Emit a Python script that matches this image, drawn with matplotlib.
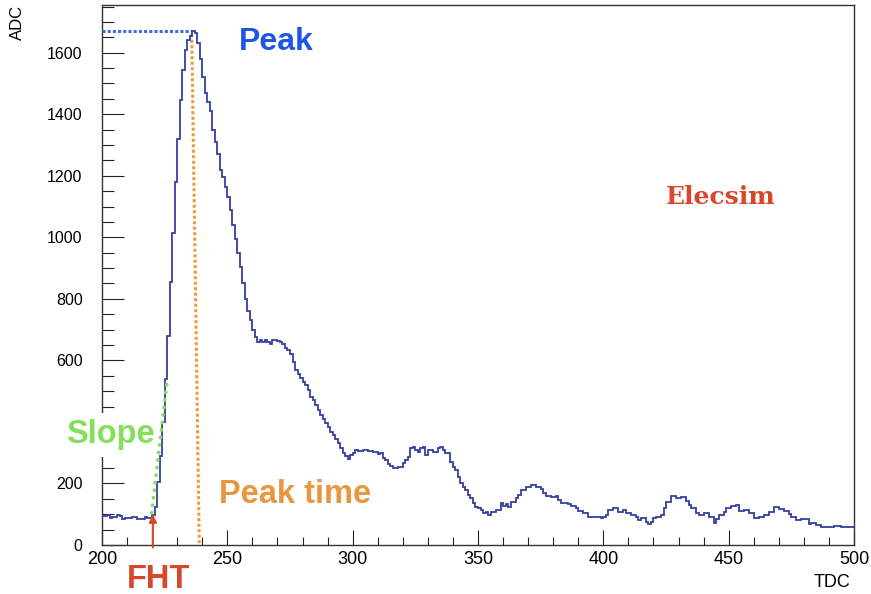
import matplotlib
matplotlib.use("Agg")
import matplotlib.pyplot as plt
import numpy as np
from matplotlib.ticker import MultipleLocator, FuncFormatter

# ---------------- data ----------------
TDC_MIN = 200
TDC_MAX = 500
# ADC content of each 1-TDC bin, bins 200..499
adc_200 = [93, 95, 99, 88, 90, 90, 97, 93, 86, 88]
adc_210 = [88, 88, 90, 90, 86, 86, 86, 90, 88, 88]
adc_220 = [99, 125, 205, 290, 400, 540, 680, 855, 1015, 1180]
adc_230 = [1320, 1445, 1545, 1610, 1640, 1655, 1670, 1665, 1630, 1580]
adc_240 = [1520, 1470, 1440, 1410, 1350, 1310, 1270, 1220, 1195, 1165]
adc_250 = [1130, 1090, 1040, 995, 950, 905, 850, 800, 760, 730]
adc_260 = [700, 676, 660, 667, 660, 667, 660, 654, 667, 667]
adc_270 = [663, 660, 654, 640, 635, 622, 595, 568, 557, 544]
adc_280 = [530, 519, 503, 481, 470, 454, 440, 422, 408, 397]
adc_290 = [384, 368, 357, 343, 330, 314, 300, 290, 281, 292]
adc_300 = [300, 308, 306, 306, 308, 308, 306, 306, 303, 303]
adc_310 = [295, 300, 284, 276, 263, 256, 249, 249, 252, 254]
adc_320 = [265, 276, 287, 314, 319, 308, 303, 314, 319, 292]
adc_330 = [310, 308, 303, 303, 314, 319, 308, 300, 300, 270]
adc_340 = [254, 243, 222, 200, 189, 179, 162, 152, 135, 124]
adc_350 = [119, 114, 103, 108, 97, 108, 108, 114, 114, 135]
adc_360 = [127, 133, 124, 141, 141, 152, 162, 179, 179, 189]
adc_370 = [189, 195, 195, 189, 189, 181, 170, 159, 159, 155]
adc_380 = [155, 159, 146, 135, 135, 135, 133, 127, 127, 119]
adc_390 = [112, 112, 103, 103, 90, 90, 90, 92, 92, 87]
adc_400 = [92, 97, 114, 114, 119, 119, 108, 108, 114, 103]
adc_410 = [103, 97, 97, 90, 81, 87, 87, 76, 68, 76]
adc_420 = [87, 92, 92, 97, 119, 141, 141, 159, 159, 152]
adc_430 = [152, 157, 157, 144, 130, 119, 119, 103, 97, 97]
adc_440 = [105, 105, 92, 92, 70, 83, 97, 97, 108, 119]
adc_450 = [119, 127, 127, 130, 112, 112, 114, 114, 105, 105]
adc_460 = [87, 87, 92, 92, 97, 97, 108, 108, 122, 122]
adc_470 = [116, 116, 112, 112, 101, 92, 92, 81, 81, 83]
adc_480 = [83, 83, 68, 73, 73, 65, 65, 60, 60, 60]
adc_490 = [60, 60, 62, 62, 62, 57, 57, 57, 57, 57]

adc = (adc_200 + adc_210 + adc_220 + adc_230 + adc_240 + adc_250 + adc_260
       + adc_270 + adc_280 + adc_290 + adc_300 + adc_310 + adc_320 + adc_330
       + adc_340 + adc_350 + adc_360 + adc_370 + adc_380 + adc_390 + adc_400
       + adc_410 + adc_420 + adc_430 + adc_440 + adc_450 + adc_460 + adc_470
       + adc_480 + adc_490)

# y tick label hidden under the "Slope" label in the original
hidden_ytick = 400

# annotation lines (hand drawn in the original)
fht_tdc = 220.3
fht_adc = 100
slope_tdc = [219.8, 226.0]
slope_adc = [104, 535]
peaktime_tdc = [235.8, 238.8]
peaktime_adc = [1660, 0]

# ---------------- style ----------------
HIST_C = "#35409f"
BLUE = "#1f55e4"
BLUE_DOT = "#3b6fe0"
ORANGE = "#ee9a3e"
ORANGE_T = "#e8963f"
GREEN = "#84e05c"
RED = "#d9472b"
FONT = "Liberation Sans"

fig = plt.figure(figsize=(8.71, 5.94), dpi=100)
ax = fig.add_axes([0.1171, 0.0825, 0.8634, 0.9091])

edges = np.arange(TDC_MIN, TDC_MAX + 1)
values = np.array(adc, dtype=float)
ax.stairs(values, edges, color=HIST_C, lw=1.3, baseline=None, zorder=6)

ax.set_xlim(TDC_MIN, TDC_MAX)
ax.set_ylim(0, 1755)

ax.xaxis.set_major_locator(MultipleLocator(50))
ax.xaxis.set_minor_locator(MultipleLocator(10))
ax.yaxis.set_major_locator(MultipleLocator(200))
ax.yaxis.set_minor_locator(MultipleLocator(50))
ax.yaxis.set_major_formatter(
    FuncFormatter(lambda v, p: "" if abs(v - hidden_ytick) < 1e-6 else f"{v:.0f}"))

ax.tick_params(which="both", direction="in", top=False, right=False, color="#222222")
ax.tick_params(axis="y", which="major", length=15.8, width=0.8, pad=14, labelsize=11.5)
ax.tick_params(axis="y", which="minor", length=8.6, width=0.8)
ax.tick_params(axis="x", which="major", length=10.8, width=0.8, pad=4, labelsize=13)
ax.tick_params(axis="x", which="minor", length=5.8, width=0.8)
for lab in ax.get_xticklabels() + ax.get_yticklabels():
    lab.set_fontfamily(FONT)
for sp in ax.spines.values():
    sp.set_color("#333333")
    sp.set_linewidth(1.0)

ax.set_ylabel("ADC", loc="top", fontsize=12, family=FONT)
ax.yaxis.set_label_coords(-0.1024, 1.0)
ax.set_xlabel("TDC", loc="right", fontsize=13, family=FONT)
ax.xaxis.set_label_coords(0.9947, -0.053)

# peak annotations derived from the histogram
pk = int(np.argmax(values))
peak_val = values[pk]
ax.plot([TDC_MIN, edges[pk]], [peak_val, peak_val], color=BLUE_DOT, lw=2.2,
        ls=(0, (1, 0.7)), zorder=5, clip_on=False)
ax.plot(peaktime_tdc, peaktime_adc, color=ORANGE, lw=2.2, ls=(0, (1, 0.8)), zorder=5)
ax.plot(slope_tdc, slope_adc, color=GREEN, lw=2.6, ls=(0, (0.1, 2.0)),
        dash_capstyle="round", zorder=7)
ax.annotate("", xy=(fht_tdc, fht_adc), xytext=(fht_tdc, -8),
            arrowprops=dict(arrowstyle="-|>,head_length=0.45,head_width=0.22",
                            color=RED, lw=1.5, shrinkA=0, shrinkB=0),
            annotation_clip=False, zorder=8)

ax.text(0.2314, 0.9315, "Peak", transform=ax.transAxes, ha="center", va="center",
        color=BLUE, fontsize=23, fontweight="bold", family=FONT)
ax.text(0.8231, 0.6444, "Elecsim", transform=ax.transAxes, ha="center", va="center",
        color=RED, fontsize=18, fontweight="bold", family="DejaVu Serif")
ax.text(0.0106, 0.204, "Slope", transform=ax.transAxes, ha="center", va="center",
        color=GREEN, fontsize=23.5, fontweight="bold", family=FONT, zorder=4,
        bbox=dict(facecolor="white", edgecolor="none", boxstyle="square,pad=0.2"))
ax.text(0.2566, 0.093, "Peak time", transform=ax.transAxes, ha="center", va="center",
        color=ORANGE_T, fontsize=23.5, fontweight="bold", family=FONT)
ax.text(0.0758, -0.063, "FHT", transform=ax.transAxes, ha="center", va="center",
        color=RED, fontsize=23.5, fontweight="bold", family=FONT)

fig.savefig("out.png", dpi=100)
